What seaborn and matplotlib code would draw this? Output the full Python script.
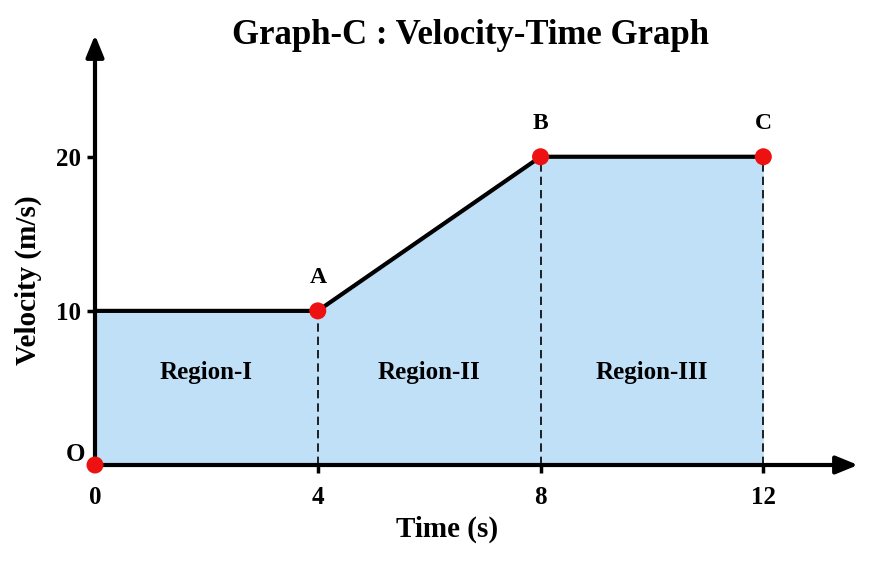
import numpy as np
import matplotlib
matplotlib.use("Agg")
import matplotlib.pyplot as plt
import seaborn as sns
import pandas as pd

# velocity-time data
time_s = [0, 4, 8, 12]
velocity = [10, 10, 20, 20]
point_names = ["O", "A", "B", "C"]
point_t = [0, 4, 8, 12]
point_v = [0, 10, 20, 20]
region_names = ["Region-I", "Region-II", "Region-III"]
region_t = [2, 6, 10]
x_ticks = [0, 4, 8, 12]
y_ticks = [10, 20]

sns.set_theme(style="white")
plt.rcParams["font.family"] = ["Liberation Serif", "DejaVu Serif"]
plt.rcParams["font.weight"] = "bold"
plt.rcParams["text.color"] = "black"
plt.rcParams["axes.labelcolor"] = "black"
plt.rcParams["xtick.color"] = "black"
plt.rcParams["ytick.color"] = "black"

fig = plt.figure(figsize=(8.77, 5.85), dpi=100)
ax = fig.add_axes([95 / 877, 120 / 585, 763 / 877, 430 / 585])
ax.set_xlim(0, 13.7)
ax.set_ylim(0, 27.9)

df = pd.DataFrame({"t": time_s, "v": velocity})

# shaded area under the curve
ax.fill_between(df["t"], 0, df["v"], color="#c0e0f8", lw=0, zorder=1)

sns.lineplot(data=df, x="t", y="v", color="black", lw=3, ax=ax, zorder=3,
             solid_capstyle="round")

# dashed drops
for t, v in zip(point_t[1:], point_v[1:]):
    ax.plot([t, t], [0, v], color="black", lw=1.2, ls=(0, (5, 3)), zorder=2)

# axes with arrows
ax.annotate("", xy=(13.7, 0), xytext=(0, 0),
            arrowprops=dict(arrowstyle="-|>,head_length=1.1,head_width=0.45",
                            color="black", lw=3, shrinkA=0, shrinkB=0),
            annotation_clip=False, zorder=4)
ax.annotate("", xy=(0, 27.9), xytext=(0, 0),
            arrowprops=dict(arrowstyle="-|>,head_length=1.1,head_width=0.45",
                            color="black", lw=3, shrinkA=0, shrinkB=0),
            annotation_clip=False, zorder=4)

sns.scatterplot(x=point_t, y=point_v, color="#ee1111", s=150, edgecolor="none",
                ax=ax, zorder=5, clip_on=False)

# point labels
ax.text(-0.18, 0.65, "O", fontsize=18, fontweight="bold", ha="right", va="center")
for name, t, v in zip(point_names[1:], point_t[1:], point_v[1:]):
    ax.text(t, v + 1.5, name, fontsize=17, fontweight="bold", ha="center", va="bottom")

for name, t in zip(region_names, region_t):
    ax.text(t, 6, name, fontsize=18, fontweight="bold", ha="center", va="center")

for s in ax.spines.values():
    s.set_visible(False)

ax.set_xticks(x_ticks)
ax.set_xticklabels([str(t) for t in x_ticks])
ax.set_yticks(y_ticks)
ax.set_yticklabels([str(t) for t in y_ticks])
ax.tick_params(axis="x", direction="out", length=6, width=2.5, pad=9,
               labelsize=18, bottom=True)
ax.tick_params(axis="y", direction="out", length=6, width=2.5, pad=4,
               labelsize=18, left=True)
ax.xaxis.get_major_ticks()[0].tick1line.set_visible(False)
for lbl in ax.get_xticklabels() + ax.get_yticklabels():
    lbl.set_fontweight("bold")

ax.set_xlabel("Time (s)", fontsize=21, fontweight="bold")
ax.xaxis.set_label_coords((447 - 95) / 763, -0.118)
ax.set_ylabel("Velocity (m/s)", fontsize=21, fontweight="bold")
ax.yaxis.set_label_coords(-0.07, 0.43)

fig.text(470 / 877, 1 - 35 / 585, "Graph-C : Velocity-Time Graph",
         fontsize=25, fontweight="bold", ha="center", va="center")

fig.savefig("out.png", dpi=100, facecolor="white")
